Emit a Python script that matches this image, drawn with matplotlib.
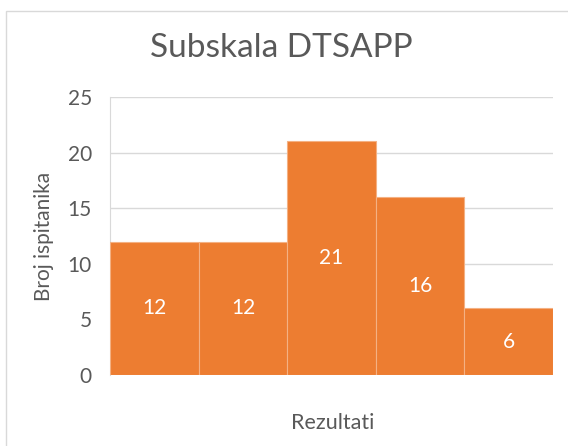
import matplotlib.pyplot as plt

# podaci
kategorije = ['1', '2', '3', '4', '5']
broj_ispitanika = [12, 12, 21, 16, 6]
y_ticks = [0, 5, 10, 15, 20, 25]

plt.rcParams['font.family'] = ['Lato', 'DejaVu Sans']
siva = '#595959'

fig = plt.figure(figsize=(5.68, 4.46), dpi=100)
ax = fig.add_axes([0.1937, 0.1592, 0.7799, 0.6233])

x = range(len(broj_ispitanika))
ax.bar(x, broj_ispitanika, width=1.0, color='#ED7D31', edgecolor='#F4B183', linewidth=0.8, zorder=3)

for xi, v in zip(x, broj_ispitanika):
    ax.text(xi, v / 2, str(v), color='white', ha='center', va='center', fontsize=15, zorder=4)

ax.set_xlim(-0.5, len(broj_ispitanika) - 0.5)
ax.set_ylim(0, 25)
ax.set_yticks(y_ticks)
ax.set_xticks([])
ax.tick_params(axis='y', length=0, labelsize=15, labelcolor=siva, pad=13)
ax.grid(axis='y', color='#D9D9D9', linewidth=1, zorder=0)
for s in ['top', 'right', 'bottom']:
    ax.spines[s].set_visible(False)
ax.spines['left'].set_color('#D9D9D9')

ax.set_ylabel('Broj ispitanika', fontsize=15, color=siva, labelpad=10)
fig.text(0.586, 0.051, 'Rezultati', fontsize=15.5, color=siva, ha='center', va='center')
fig.text(0.495, 0.893, 'Subskala DTSAPP', fontsize=24, color=siva, ha='center', va='center')

# okvir grafikona
okvir = plt.Rectangle((0.011, -0.05), 1.2, 1.025, transform=fig.transFigure,
                      fill=False, edgecolor='#D9D9D9', linewidth=1)
fig.patches.append(okvir)

plt.savefig('out.png', dpi=100)
